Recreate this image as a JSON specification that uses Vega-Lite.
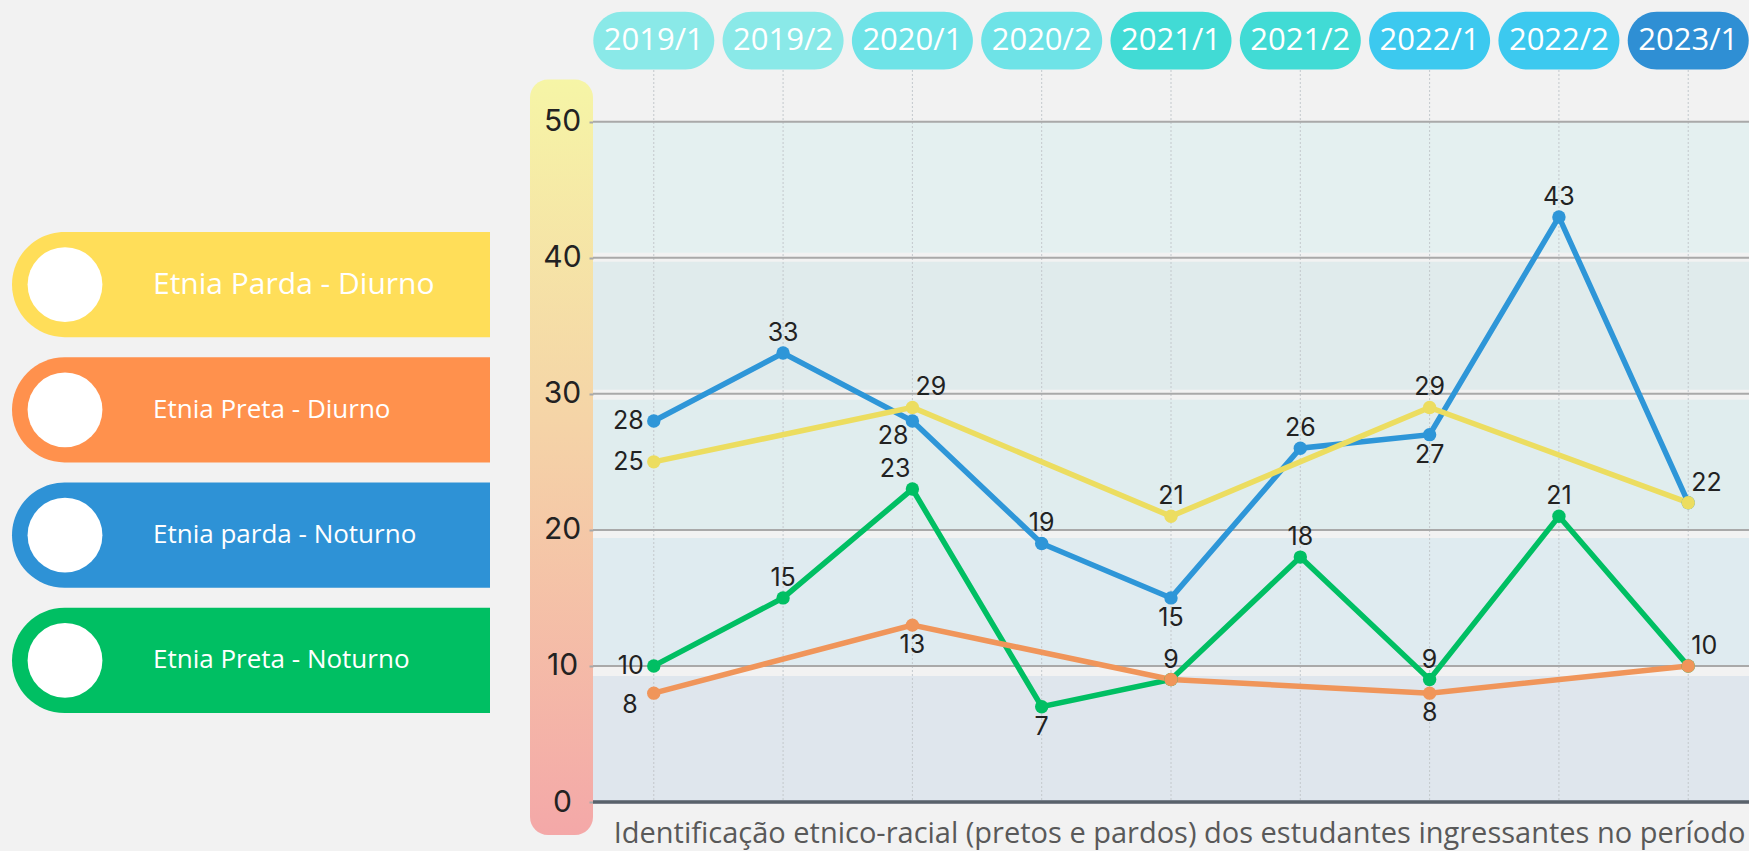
{
  "$schema": "https://vega.github.io/schema/vega-lite/v6.json",
  "background": "#F2F2F2",
  "padding": {"left": 12, "top": 11, "right": 0, "bottom": 30},
  "bounds": "flush",
  "spacing": 0,
  "config": {
    "view": {"stroke": null},
    "axisX": {"labels": false, "ticks": false, "domain": false, "grid": false, "titleFont": "Open Sans", "titleFontSize": 29, "titleFontWeight": "normal", "titleColor": "#595959", "titlePadding": 17, "titleX": 1152, "titleAlign": "right", "titleBaseline": "top"},
    "axisY": {"labelFont": "Inter", "labelFontSize": 30, "labelColor": "#222222", "labelAlign": "center", "labelBaseline": "middle", "labelPadding": 27, "tickSize": 4, "tickColor": "#A9A9A9", "tickWidth": 2, "domain": false, "grid": false}
  },
  "resolve": {"scale": {"color": "independent", "fill": "independent"}},
  "datasets": {
    "dados": [
      {"serie": "Etnia Preta - Noturno", "sem": "2019/1", "valor": 10},
      {"serie": "Etnia Preta - Noturno", "sem": "2019/2", "valor": 15},
      {"serie": "Etnia Preta - Noturno", "sem": "2020/1", "valor": 23},
      {"serie": "Etnia Preta - Noturno", "sem": "2020/2", "valor": 7},
      {"serie": "Etnia Preta - Noturno", "sem": "2021/1", "valor": 9},
      {"serie": "Etnia Preta - Noturno", "sem": "2021/2", "valor": 18},
      {"serie": "Etnia Preta - Noturno", "sem": "2022/1", "valor": 9},
      {"serie": "Etnia Preta - Noturno", "sem": "2022/2", "valor": 21},
      {"serie": "Etnia Preta - Noturno", "sem": "2023/1", "valor": 10},
      {"serie": "Etnia parda - Noturno", "sem": "2019/1", "valor": 28},
      {"serie": "Etnia parda - Noturno", "sem": "2019/2", "valor": 33},
      {"serie": "Etnia parda - Noturno", "sem": "2020/1", "valor": 28},
      {"serie": "Etnia parda - Noturno", "sem": "2020/2", "valor": 19},
      {"serie": "Etnia parda - Noturno", "sem": "2021/1", "valor": 15},
      {"serie": "Etnia parda - Noturno", "sem": "2021/2", "valor": 26},
      {"serie": "Etnia parda - Noturno", "sem": "2022/1", "valor": 27},
      {"serie": "Etnia parda - Noturno", "sem": "2022/2", "valor": 43},
      {"serie": "Etnia parda - Noturno", "sem": "2023/1", "valor": 22},
      {"serie": "Etnia Preta - Diurno", "sem": "2019/1", "valor": 8},
      {"serie": "Etnia Preta - Diurno", "sem": "2020/1", "valor": 13},
      {"serie": "Etnia Preta - Diurno", "sem": "2021/1", "valor": 9},
      {"serie": "Etnia Preta - Diurno", "sem": "2022/1", "valor": 8},
      {"serie": "Etnia Preta - Diurno", "sem": "2023/1", "valor": 10},
      {"serie": "Etnia Parda - Diurno", "sem": "2019/1", "valor": 25},
      {"serie": "Etnia Parda - Diurno", "sem": "2020/1", "valor": 29},
      {"serie": "Etnia Parda - Diurno", "sem": "2021/1", "valor": 21},
      {"serie": "Etnia Parda - Diurno", "sem": "2022/1", "valor": 29},
      {"serie": "Etnia Parda - Diurno", "sem": "2023/1", "valor": 22}
    ],
    "semestres": [
      {"sem": "2019/1"}, {"sem": "2019/2"}, {"sem": "2020/1"}, {"sem": "2020/2"}, {"sem": "2021/1"},
      {"sem": "2021/2"}, {"sem": "2022/1"}, {"sem": "2022/2"}, {"sem": "2023/1"}
    ],
    "faixas": [
      {"faixa": "A", "ini": 0, "fim": 9.26},
      {"faixa": "B", "ini": 10, "fim": 19.4},
      {"faixa": "C", "ini": 20, "fim": 29.56},
      {"faixa": "D", "ini": 30.3, "fim": 39.7},
      {"faixa": "E", "ini": 40.37, "fim": 50}
    ],
    "grade": [{"v": 10}, {"v": 20}, {"v": 30}, {"v": 40}, {"v": 50}],
    "series": [
      {"serie": "Etnia Parda - Diurno"},
      {"serie": "Etnia Preta - Diurno"},
      {"serie": "Etnia parda - Noturno"},
      {"serie": "Etnia Preta - Noturno"}
    ]
  },
  "hconcat": [
    {
      "width": 518,
      "height": 732,
      "data": {"name": "series"},
      "layer": [
        {
          "mark": {"type": "rect", "cornerRadiusTopLeft": 53, "cornerRadiusBottomLeft": 53},
          "encoding": {
            "x": {"datum": 0, "type": "quantitative", "scale": {"domain": [0, 518], "nice": false, "zero": false}, "axis": null},
            "x2": {"datum": 478},
            "y": {"field": "serie", "type": "nominal", "scale": {"type": "band", "domain": ["Etnia Parda - Diurno", "Etnia Preta - Diurno", "Etnia parda - Noturno", "Etnia Preta - Noturno"], "range": [162, 643], "paddingInner": 0.16, "paddingOuter": 0}, "axis": null},
            "color": {"field": "serie", "type": "nominal", "scale": {"domain": ["Etnia Parda - Diurno", "Etnia Preta - Diurno", "Etnia parda - Noturno", "Etnia Preta - Noturno"], "range": ["#FFDE59", "#FF914D", "#2E92D6", "#00BF63"]}, "legend": null}
          }
        },
        {
          "mark": {"type": "circle", "size": 5600, "color": "#FFFFFF", "opacity": 1},
          "encoding": {
            "x": {"datum": 53, "type": "quantitative", "scale": {"domain": [0, 518], "nice": false, "zero": false}, "axis": null},
            "y": {"field": "serie", "type": "nominal", "scale": {"type": "band", "domain": ["Etnia Parda - Diurno", "Etnia Preta - Diurno", "Etnia parda - Noturno", "Etnia Preta - Noturno"], "range": [162, 643], "paddingInner": 0.16, "paddingOuter": 0}, "axis": null}
          }
        },
        {
          "mark": {"type": "text", "align": "left", "baseline": "middle", "font": "Open Sans", "color": "#FFFFFF"},
          "encoding": {
            "x": {"datum": 141, "type": "quantitative", "scale": {"domain": [0, 518], "nice": false, "zero": false}, "axis": null},
            "y": {"field": "serie", "type": "nominal", "scale": {"type": "band", "domain": ["Etnia Parda - Diurno", "Etnia Preta - Diurno", "Etnia parda - Noturno", "Etnia Preta - Noturno"], "range": [162, 643], "paddingInner": 0.16, "paddingOuter": 0}, "axis": null},
            "text": {"field": "serie"},
            "size": {"condition": {"test": "datum.serie === 'Etnia Parda - Diurno'", "value": 30}, "value": 26}
          }
        }
      ]
    },
    {
      "width": 63,
      "height": 732,
      "data": {"values": [{"faixa": "eixo"}]},
      "mark": {"type": "rect", "cornerRadius": 18, "fill": {"gradient": "linear", "x1": 0, "y1": 0, "x2": 0, "y2": 1, "stops": [{"offset": 0, "color": "#F6F5A6"}, {"offset": 0.45, "color": "#F5D4A7"}, {"offset": 1, "color": "#F4A8A8"}]}},
      "encoding": {
        "y": {"datum": 53.1, "type": "quantitative", "scale": {"domain": [0, 53.8], "nice": false, "zero": false}, "axis": null},
        "y2": {"datum": -2.43}
      }
    },
    {
      "width": 1156,
      "height": 732,
      "resolve": {"scale": {"fill": "independent"}},
      "layer": [
        {
          "data": {"name": "faixas"},
          "mark": {"type": "rect", "strokeWidth": 0},
          "encoding": {
            "y": {"field": "ini", "type": "quantitative", "scale": {"domain": [0, 53.8], "nice": false, "zero": false}, "axis": {"values": [0, 10, 20, 30, 40, 50]}, "title": null},
            "y2": {"field": "fim"},
            "fill": {"field": "faixa", "type": "nominal", "scale": {"domain": ["A", "B", "C", "D", "E"], "range": ["#DFE6ED", "#DFEBF0", "#E0EDEE", "#E0EBEC", "#E4F0F0"]}, "legend": null}
          }
        },
        {
          "data": {"name": "semestres"},
          "mark": {"type": "rule", "color": "#C3C8CC", "strokeWidth": 1, "strokeDash": [2, 2]},
          "encoding": {
            "x": {"field": "sem", "type": "ordinal", "scale": {"type": "point", "domain": ["2019/1", "2019/2", "2020/1", "2020/2", "2021/1", "2021/2", "2022/1", "2022/2", "2023/1"], "padding": 0.47}, "title": "Identificação etnico-racial (pretos e pardos) dos estudantes ingressantes no período"}
          }
        },
        {
          "data": {"name": "grade"},
          "mark": {"type": "rule", "color": "#A9A9A9", "strokeWidth": 2},
          "encoding": {
            "y": {"field": "v", "type": "quantitative", "scale": {"domain": [0, 53.8], "nice": false, "zero": false}, "axis": {"values": [0, 10, 20, 30, 40, 50]}, "title": null}
          }
        },
        {
          "data": {"name": "grade"},
          "mark": {"type": "rule", "color": "#59626B", "strokeWidth": 2.5},
          "encoding": {
            "y": {"datum": 0, "type": "quantitative", "scale": {"domain": [0, 53.8], "nice": false, "zero": false}, "axis": {"values": [0, 10, 20, 30, 40, 50]}, "title": null}
          }
        },
        {
          "data": {"name": "dados"},
          "mark": {"type": "line", "strokeWidth": 5.5},
          "encoding": {
            "x": {"field": "sem", "type": "ordinal", "scale": {"type": "point", "domain": ["2019/1", "2019/2", "2020/1", "2020/2", "2021/1", "2021/2", "2022/1", "2022/2", "2023/1"], "padding": 0.47}, "title": "Identificação etnico-racial (pretos e pardos) dos estudantes ingressantes no período"},
            "y": {"field": "valor", "type": "quantitative", "scale": {"domain": [0, 53.8], "nice": false, "zero": false}, "axis": {"values": [0, 10, 20, 30, 40, 50]}, "title": null},
            "color": {"field": "serie", "type": "nominal", "scale": {"domain": ["Etnia Parda - Diurno", "Etnia Preta - Diurno", "Etnia parda - Noturno", "Etnia Preta - Noturno"], "range": ["#ECDD60", "#F0955A", "#2E96D8", "#00BF63"]}, "legend": null}
          }
        },
        {
          "data": {"name": "dados"},
          "mark": {"type": "point", "filled": true, "size": 180, "opacity": 1},
          "encoding": {
            "x": {"field": "sem", "type": "ordinal", "scale": {"type": "point", "domain": ["2019/1", "2019/2", "2020/1", "2020/2", "2021/1", "2021/2", "2022/1", "2022/2", "2023/1"], "padding": 0.47}, "title": "Identificação etnico-racial (pretos e pardos) dos estudantes ingressantes no período"},
            "y": {"field": "valor", "type": "quantitative", "scale": {"domain": [0, 53.8], "nice": false, "zero": false}, "axis": {"values": [0, 10, 20, 30, 40, 50]}, "title": null},
            "color": {"field": "serie", "type": "nominal", "scale": {"domain": ["Etnia Parda - Diurno", "Etnia Preta - Diurno", "Etnia parda - Noturno", "Etnia Preta - Noturno"], "range": ["#ECDD60", "#F0955A", "#2E96D8", "#00BF63"]}, "legend": null}
          }
        },
        {
          "data": {"name": "dados"},
          "transform": [{"filter": "indexof(['Etnia parda - Noturno|2019/1', 'Etnia Parda - Diurno|2019/1', 'Etnia Preta - Noturno|2019/1'], datum.serie + '|' + datum.sem) >= 0"}],
          "mark": {"type": "text", "font": "Inter", "fontSize": 25, "color": "#222222", "align": "right", "baseline": "middle", "dx": -10},
          "encoding": {
            "x": {"field": "sem", "type": "ordinal", "scale": {"type": "point", "domain": ["2019/1", "2019/2", "2020/1", "2020/2", "2021/1", "2021/2", "2022/1", "2022/2", "2023/1"], "padding": 0.47}, "title": "Identificação etnico-racial (pretos e pardos) dos estudantes ingressantes no período"},
            "y": {"field": "valor", "type": "quantitative", "scale": {"domain": [0, 53.8], "nice": false, "zero": false}, "axis": {"values": [0, 10, 20, 30, 40, 50]}, "title": null},
            "text": {"field": "valor"}
          }
        },
        {
          "data": {"name": "dados"},
          "transform": [{"filter": "indexof(['Etnia Preta - Diurno|2019/1'], datum.serie + '|' + datum.sem) >= 0"}],
          "mark": {"type": "text", "font": "Inter", "fontSize": 25, "color": "#222222", "align": "right", "baseline": "middle", "dx": -16, "dy": 12},
          "encoding": {
            "x": {"field": "sem", "type": "ordinal", "scale": {"type": "point", "domain": ["2019/1", "2019/2", "2020/1", "2020/2", "2021/1", "2021/2", "2022/1", "2022/2", "2023/1"], "padding": 0.47}, "title": "Identificação etnico-racial (pretos e pardos) dos estudantes ingressantes no período"},
            "y": {"field": "valor", "type": "quantitative", "scale": {"domain": [0, 53.8], "nice": false, "zero": false}, "axis": {"values": [0, 10, 20, 30, 40, 50]}, "title": null},
            "text": {"field": "valor"}
          }
        },
        {
          "data": {"name": "dados"},
          "transform": [{"filter": "indexof(['Etnia parda - Noturno|2019/2', 'Etnia parda - Noturno|2020/2', 'Etnia parda - Noturno|2021/2', 'Etnia parda - Noturno|2022/2', 'Etnia Parda - Diurno|2021/1', 'Etnia Parda - Diurno|2022/1', 'Etnia Preta - Diurno|2021/1', 'Etnia Preta - Noturno|2019/2', 'Etnia Preta - Noturno|2021/2', 'Etnia Preta - Noturno|2022/1', 'Etnia Preta - Noturno|2022/2'], datum.serie + '|' + datum.sem) >= 0"}],
          "mark": {"type": "text", "font": "Inter", "fontSize": 25, "color": "#222222", "align": "center", "baseline": "alphabetic", "dy": -12},
          "encoding": {
            "x": {"field": "sem", "type": "ordinal", "scale": {"type": "point", "domain": ["2019/1", "2019/2", "2020/1", "2020/2", "2021/1", "2021/2", "2022/1", "2022/2", "2023/1"], "padding": 0.47}, "title": "Identificação etnico-racial (pretos e pardos) dos estudantes ingressantes no período"},
            "y": {"field": "valor", "type": "quantitative", "scale": {"domain": [0, 53.8], "nice": false, "zero": false}, "axis": {"values": [0, 10, 20, 30, 40, 50]}, "title": null},
            "text": {"field": "valor"}
          }
        },
        {
          "data": {"name": "dados"},
          "transform": [{"filter": "indexof(['Etnia Parda - Diurno|2020/1', 'Etnia Parda - Diurno|2023/1', 'Etnia Preta - Diurno|2023/1'], datum.serie + '|' + datum.sem) >= 0"}],
          "mark": {"type": "text", "font": "Inter", "fontSize": 25, "color": "#222222", "align": "left", "baseline": "alphabetic", "dx": 3, "dy": -12},
          "encoding": {
            "x": {"field": "sem", "type": "ordinal", "scale": {"type": "point", "domain": ["2019/1", "2019/2", "2020/1", "2020/2", "2021/1", "2021/2", "2022/1", "2022/2", "2023/1"], "padding": 0.47}, "title": "Identificação etnico-racial (pretos e pardos) dos estudantes ingressantes no período"},
            "y": {"field": "valor", "type": "quantitative", "scale": {"domain": [0, 53.8], "nice": false, "zero": false}, "axis": {"values": [0, 10, 20, 30, 40, 50]}, "title": null},
            "text": {"field": "valor"}
          }
        },
        {
          "data": {"name": "dados"},
          "transform": [{"filter": "indexof(['Etnia Preta - Noturno|2020/1'], datum.serie + '|' + datum.sem) >= 0"}],
          "mark": {"type": "text", "font": "Inter", "fontSize": 25, "color": "#222222", "align": "right", "baseline": "alphabetic", "dx": -2, "dy": -12},
          "encoding": {
            "x": {"field": "sem", "type": "ordinal", "scale": {"type": "point", "domain": ["2019/1", "2019/2", "2020/1", "2020/2", "2021/1", "2021/2", "2022/1", "2022/2", "2023/1"], "padding": 0.47}, "title": "Identificação etnico-racial (pretos e pardos) dos estudantes ingressantes no período"},
            "y": {"field": "valor", "type": "quantitative", "scale": {"domain": [0, 53.8], "nice": false, "zero": false}, "axis": {"values": [0, 10, 20, 30, 40, 50]}, "title": null},
            "text": {"field": "valor"}
          }
        },
        {
          "data": {"name": "dados"},
          "transform": [{"filter": "indexof(['Etnia parda - Noturno|2021/1', 'Etnia parda - Noturno|2022/1', 'Etnia Preta - Diurno|2020/1', 'Etnia Preta - Diurno|2022/1', 'Etnia Preta - Noturno|2020/2'], datum.serie + '|' + datum.sem) >= 0"}],
          "mark": {"type": "text", "font": "Inter", "fontSize": 25, "color": "#222222", "align": "center", "baseline": "top", "dy": 8},
          "encoding": {
            "x": {"field": "sem", "type": "ordinal", "scale": {"type": "point", "domain": ["2019/1", "2019/2", "2020/1", "2020/2", "2021/1", "2021/2", "2022/1", "2022/2", "2023/1"], "padding": 0.47}, "title": "Identificação etnico-racial (pretos e pardos) dos estudantes ingressantes no período"},
            "y": {"field": "valor", "type": "quantitative", "scale": {"domain": [0, 53.8], "nice": false, "zero": false}, "axis": {"values": [0, 10, 20, 30, 40, 50]}, "title": null},
            "text": {"field": "valor"}
          }
        },
        {
          "data": {"name": "dados"},
          "transform": [{"filter": "indexof(['Etnia parda - Noturno|2020/1'], datum.serie + '|' + datum.sem) >= 0"}],
          "mark": {"type": "text", "font": "Inter", "fontSize": 25, "color": "#222222", "align": "right", "baseline": "top", "dx": -4, "dy": 3},
          "encoding": {
            "x": {"field": "sem", "type": "ordinal", "scale": {"type": "point", "domain": ["2019/1", "2019/2", "2020/1", "2020/2", "2021/1", "2021/2", "2022/1", "2022/2", "2023/1"], "padding": 0.47}, "title": "Identificação etnico-racial (pretos e pardos) dos estudantes ingressantes no período"},
            "y": {"field": "valor", "type": "quantitative", "scale": {"domain": [0, 53.8], "nice": false, "zero": false}, "axis": {"values": [0, 10, 20, 30, 40, 50]}, "title": null},
            "text": {"field": "valor"}
          }
        },
        {
          "data": {"name": "semestres"},
          "mark": {"type": "point", "filled": true, "opacity": 1, "strokeWidth": 0, "size": 14641, "shape": "M -0.521 -0.479 L 0.521 -0.479 A 0.479 0.479 0 0 1 0.521 0.479 L -0.521 0.479 A 0.479 0.479 0 0 1 -0.521 -0.479 Z"},
          "encoding": {
            "x": {"field": "sem", "type": "ordinal", "scale": {"type": "point", "domain": ["2019/1", "2019/2", "2020/1", "2020/2", "2021/1", "2021/2", "2022/1", "2022/2", "2023/1"], "padding": 0.47}, "title": "Identificação etnico-racial (pretos e pardos) dos estudantes ingressantes no período"},
            "y": {"datum": 55.96, "type": "quantitative", "scale": {"domain": [0, 53.8], "nice": false, "zero": false}, "axis": {"values": [0, 10, 20, 30, 40, 50]}, "title": null},
            "fill": {"field": "sem", "type": "nominal", "scale": {"domain": ["2019/1", "2019/2", "2020/1", "2020/2", "2021/1", "2021/2", "2022/1", "2022/2", "2023/1"], "range": ["#8AE9E8", "#8AE9E8", "#6EE3E7", "#6EE3E7", "#41DBD5", "#41DBD5", "#3CC9EF", "#3CC9EF", "#2F8FD4"]}, "legend": null}
          }
        },
        {
          "data": {"name": "semestres"},
          "mark": {"type": "text", "font": "Open Sans", "fontSize": 31, "color": "#FFFFFF", "align": "center", "baseline": "middle"},
          "encoding": {
            "x": {"field": "sem", "type": "ordinal", "scale": {"type": "point", "domain": ["2019/1", "2019/2", "2020/1", "2020/2", "2021/1", "2021/2", "2022/1", "2022/2", "2023/1"], "padding": 0.47}, "title": "Identificação etnico-racial (pretos e pardos) dos estudantes ingressantes no período"},
            "y": {"datum": 55.96, "type": "quantitative", "scale": {"domain": [0, 53.8], "nice": false, "zero": false}, "axis": {"values": [0, 10, 20, 30, 40, 50]}, "title": null},
            "text": {"field": "sem"}
          }
        }
      ]
    }
  ]
}
